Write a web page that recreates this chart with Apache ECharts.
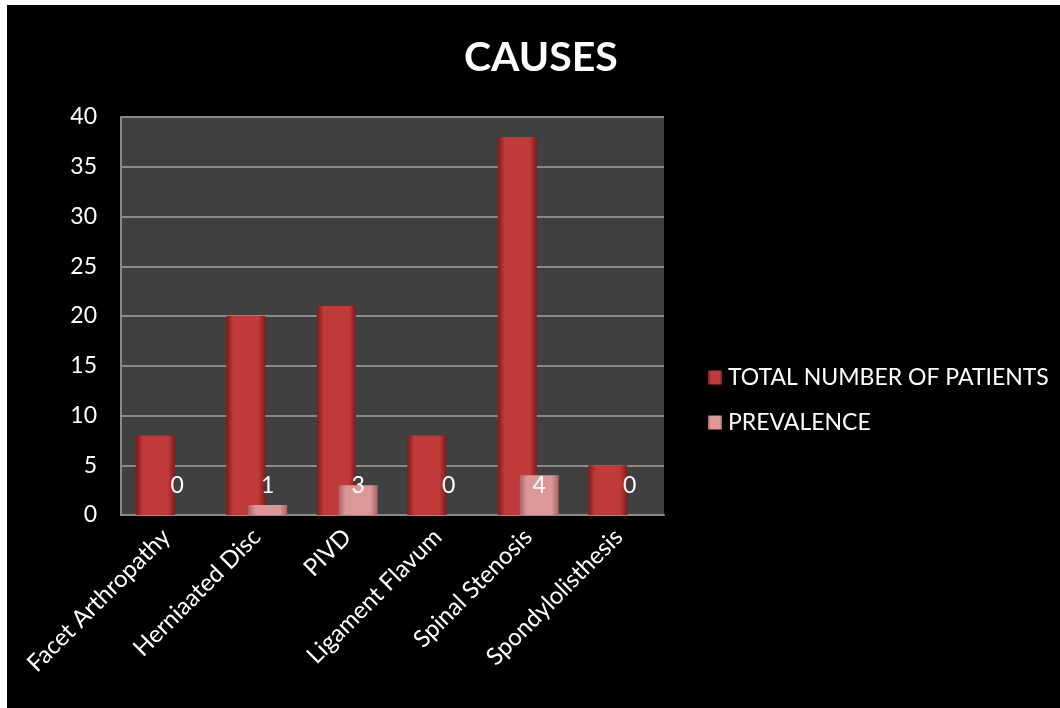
<!DOCTYPE html>
<html>
<head>
<meta charset="utf-8">
<script src="https://cdn.jsdelivr.net/npm/echarts@6/dist/echarts.min.js"></script>
<style>
  html, body { margin: 0; padding: 0; background: #ffffff; }
  #chart { position: absolute; left: 7px; top: 5px; width: 1053px; height: 703px; background: #000000; }
</style>
</head>
<body>
<div id="chart"></div>
<script>
// Causes of the condition: patient totals and prevalence per cause
const categories = ['Facet Arthropathy', 'Herniaated Disc', 'PIVD', 'Ligament Flavum', 'Spinal Stenosis', 'Spondylolisthesis'];
const totalPatients = [8, 20, 21, 8, 38, 5];
const prevalence = [0, 1, 3, 0, 4, 0];
const yTicks = [0, 5, 10, 15, 20, 25, 30, 35, 40];

const FONT = 'Lato';

function bevel(edge, mid) {
  return {
    type: 'linear', x: 0, y: 0, x2: 1, y2: 0,
    colorStops: [
      { offset: 0, color: edge },
      { offset: 0.18, color: mid },
      { offset: 0.82, color: mid },
      { offset: 1, color: edge }
    ]
  };
}

const chart = echarts.init(document.getElementById('chart'));
chart.setOption({
  backgroundColor: '#000000',
  animation: false,
  textStyle: { fontFamily: FONT },
  title: {
    text: 'CAUSES',
    left: 452,
    top: 27,
    textStyle: { color: '#ffffff', fontSize: 41, fontWeight: 'bold', fontFamily: FONT }
  },
  legend: {
    orient: 'vertical',
    left: 696,
    top: 356,
    itemWidth: 14,
    itemHeight: 14,
    itemGap: 22,
    icon: 'rect',
    textStyle: { color: '#ffffff', fontSize: 23, fontFamily: FONT, padding: [0, 0, 0, 1] },
    data: ['TOTAL NUMBER OF PATIENTS', 'PREVALENCE']
  },
  grid: {
    left: 114, top: 112, width: 543, height: 398,
    show: true, backgroundColor: '#404040', borderWidth: 0
  },
  xAxis: {
    type: 'category',
    data: categories,
    axisLine: { show: true, lineStyle: { color: '#8a8a8a', width: 2 } },
    axisTick: { show: false },
    axisLabel: {
      color: '#ffffff', fontSize: 24, fontFamily: FONT,
      rotate: 45, interval: 0, margin: 18
    }
  },
  yAxis: {
    type: 'value',
    min: yTicks[0],
    max: yTicks[yTicks.length - 1],
    interval: yTicks[1] - yTicks[0],
    axisLine: { show: true, lineStyle: { color: '#8a8a8a', width: 2 } },
    axisTick: { show: false },
    axisLabel: { color: '#ffffff', fontSize: 23, fontFamily: FONT, margin: 24 },
    splitLine: { show: true, lineStyle: { color: '#8a8a8a', width: 2 } }
  },
  series: [
    {
      name: 'TOTAL NUMBER OF PATIENTS',
      type: 'bar',
      data: totalPatients,
      barWidth: 39,
      barGap: '-44%',
      itemStyle: { color: bevel('#7e1a1a', '#c03a3a'), borderWidth: 0 }
    },
    {
      name: 'PREVALENCE',
      type: 'bar',
      data: prevalence,
      barWidth: 39,
      itemStyle: { color: bevel('#a86464', '#dc9898'), borderWidth: 0 },
      label: {
        show: true,
        position: 'insideBottom',
        distance: 18,
        color: '#ffffff',
        fontSize: 23,
        fontFamily: FONT
      }
    }
  ]
});
</script>
</body>
</html>
